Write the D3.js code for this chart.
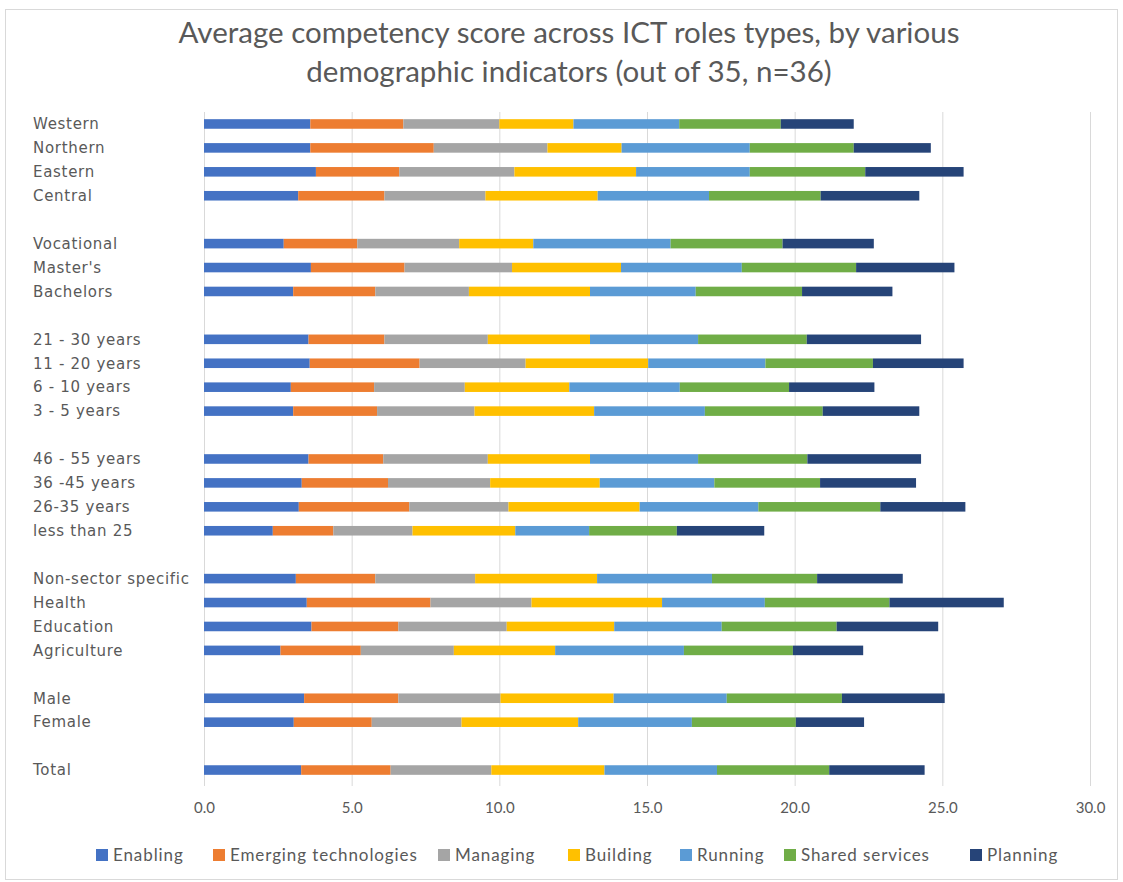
<!DOCTYPE html>
<html>
<head>
<meta charset="utf-8">
<script src="https://cdn.jsdelivr.net/npm/d3@7"></script>
<style>
  html, body { margin: 0; padding: 0; background: #ffffff; }
  svg { display: block; }
</style>
</head>
<body>
<svg id="chart" width="1123" height="882"></svg>
<script>
// Row labels, top to bottom, and how many rows sit in each group
const categories = [
  "Western", "Northern", "Eastern", "Central",
  "Vocational", "Master's", "Bachelors",
  "21 - 30 years", "11 - 20 years", "6 - 10 years", "3 - 5 years",
  "46 - 55 years", "36 -45 years", "26-35 years", "less than 25",
  "Non-sector specific", "Health", "Education", "Agriculture",
  "Male", "Female",
  "Total"
];
const groupSizes = [4, 3, 4, 4, 4, 2, 1];

const seriesNames = ["Enabling", "Emerging technologies", "Managing", "Building", "Running", "Shared services", "Planning"];

// Average score per role type, one value per row above
const enabling   = [3.60, 3.60, 3.79, 3.19, 2.70, 3.62, 3.02, 3.54, 3.58, 2.94, 3.02, 3.54, 3.31, 3.21, 2.33, 3.11, 3.48, 3.64, 2.59, 3.39, 3.04, 3.29];
const emerging   = [3.15, 4.18, 2.82, 2.92, 2.49, 3.17, 2.78, 2.57, 3.72, 2.82, 2.84, 2.53, 2.92, 3.74, 2.05, 2.69, 4.19, 2.94, 2.72, 3.19, 2.64, 3.03];
const managing   = [3.25, 3.85, 3.90, 3.42, 3.45, 3.64, 3.17, 3.50, 3.59, 3.07, 3.30, 3.54, 3.46, 3.36, 2.68, 3.38, 3.42, 3.67, 3.15, 3.46, 3.04, 3.41];
const building   = [2.51, 2.51, 4.12, 3.80, 2.51, 3.69, 4.10, 3.46, 4.15, 3.54, 4.05, 3.46, 3.71, 4.44, 3.48, 4.13, 4.42, 3.64, 3.43, 3.83, 3.95, 3.83];
const running    = [3.58, 4.34, 3.85, 3.77, 4.65, 4.09, 3.58, 3.66, 3.97, 3.74, 3.75, 3.66, 3.88, 4.02, 2.50, 3.89, 3.48, 3.64, 4.36, 3.83, 3.85, 3.81];
const shared     = [3.44, 3.52, 3.91, 3.78, 3.79, 3.87, 3.60, 3.68, 3.64, 3.70, 3.99, 3.70, 3.58, 4.13, 2.97, 3.56, 4.22, 3.89, 3.69, 3.90, 3.52, 3.80];
const planning   = [2.47, 2.61, 3.33, 3.34, 3.09, 3.33, 3.06, 3.87, 3.07, 2.89, 3.27, 3.85, 3.25, 2.88, 2.96, 2.90, 3.87, 3.44, 2.38, 3.48, 2.31, 3.23];

const xTicks = [0, 5, 10, 15, 20, 25, 30];
const titleLines = ["Average competency score across ICT roles types, by various", "demographic indicators (out of 35, n=36)"];

const colors = ["#4472C4", "#ED7D31", "#A5A5A5", "#FFC000", "#5B9BD5", "#70AD47", "#264478"];

// ---- build table for the stack layout ----
const seriesValues = [enabling, emerging, managing, building, running, shared, planning];
const rows = categories.map((c, i) => {
  const r = { category: c };
  seriesNames.forEach((s, k) => { r[s] = seriesValues[k][i]; });
  return r;
});

// Row slots: a blank slot separates neighbouring groups
const slots = [];
let ci = 0;
groupSizes.forEach((n, g) => {
  if (g > 0) slots.push("__gap" + g);
  for (let j = 0; j < n; j++) slots.push(categories[ci++]);
});

const svg = d3.select("#chart");
const W = 1123, H = 882;
const fontNarrow = "'Lato', sans-serif";
const textColor = "#595959";

// frame
svg.append("rect")
  .attr("x", 5.5).attr("y", 9.5).attr("width", W - 11).attr("height", H - 12)
  .attr("fill", "#ffffff").attr("stroke", "#d9d9d9").attr("stroke-width", 1);

const plot = { left: 204, right: 1090, top: 112, bottom: 782 };

const x = d3.scaleLinear().domain([0, 30]).range([plot.left, plot.right]);
const y = d3.scaleBand().domain(slots).range([plot.top, plot.bottom]).paddingInner(0.6).paddingOuter(0.3);

// title
svg.append("g").selectAll("text").data(titleLines).join("text")
  .attr("x", 569).attr("y", (d, i) => 43 + i * 39)
  .attr("text-anchor", "middle")
  .attr("font-family", fontNarrow)
  .attr("font-size", 29.5)
  .attr("fill", textColor)
  .text(d => d);

// vertical gridlines
svg.append("g").selectAll("line").data(xTicks).join("line")
  .attr("x1", d => x(d) + 0.5).attr("x2", d => x(d) + 0.5)
  .attr("y1", plot.top).attr("y2", plot.bottom + 4)
  .attr("stroke", "#d9d9d9").attr("stroke-width", 1);

// stacked bars
const stack = d3.stack().keys(seriesNames);
const layers = stack(rows);
svg.append("g").selectAll("g").data(layers).join("g")
  .attr("fill", (d, i) => colors[i])
  .selectAll("rect").data(d => d).join("rect")
  .attr("x", d => x(d[0]))
  .attr("width", d => x(d[1]) - x(d[0]))
  .attr("y", d => y(d.data.category))
  .attr("height", y.bandwidth());

// category labels
svg.append("g").selectAll("text").data(categories).join("text")
  .attr("x", 33)
  .attr("y", d => y(d) + y.bandwidth() / 2)
  .attr("dy", "0.35em")
  .attr("font-family", "'DejaVu Sans', sans-serif")
  .attr("font-size", 15)
  .attr("letter-spacing", 0.7)
  .attr("fill", textColor)
  .text(d => d);

// x axis tick labels
const xAxis = d3.axisBottom(x).tickValues(xTicks).tickFormat(d3.format(".1f")).tickSize(0).tickPadding(0);
const gx = svg.append("g").attr("transform", `translate(0,${plot.bottom + 20})`).call(xAxis);
gx.select(".domain").remove();
gx.selectAll("text")
  .attr("font-family", fontNarrow)
  .attr("font-size", 15)
  .attr("fill", textColor);

// legend
const legendX = [96, 213, 438, 568, 680, 784, 970];
const legend = svg.append("g").selectAll("g").data(seriesNames).join("g")
  .attr("transform", (d, i) => `translate(${legendX[i]},855)`);
legend.append("rect")
  .attr("x", 0).attr("y", -6).attr("width", 12).attr("height", 12)
  .attr("fill", (d, i) => colors[i]);
legend.append("text")
  .attr("x", 17).attr("y", 0).attr("dy", "0.35em")
  .attr("font-family", fontNarrow)
  .attr("font-size", 17)
  .attr("letter-spacing", 0.9)
  .attr("fill", textColor)
  .text(d => d);
</script>
</body>
</html>
